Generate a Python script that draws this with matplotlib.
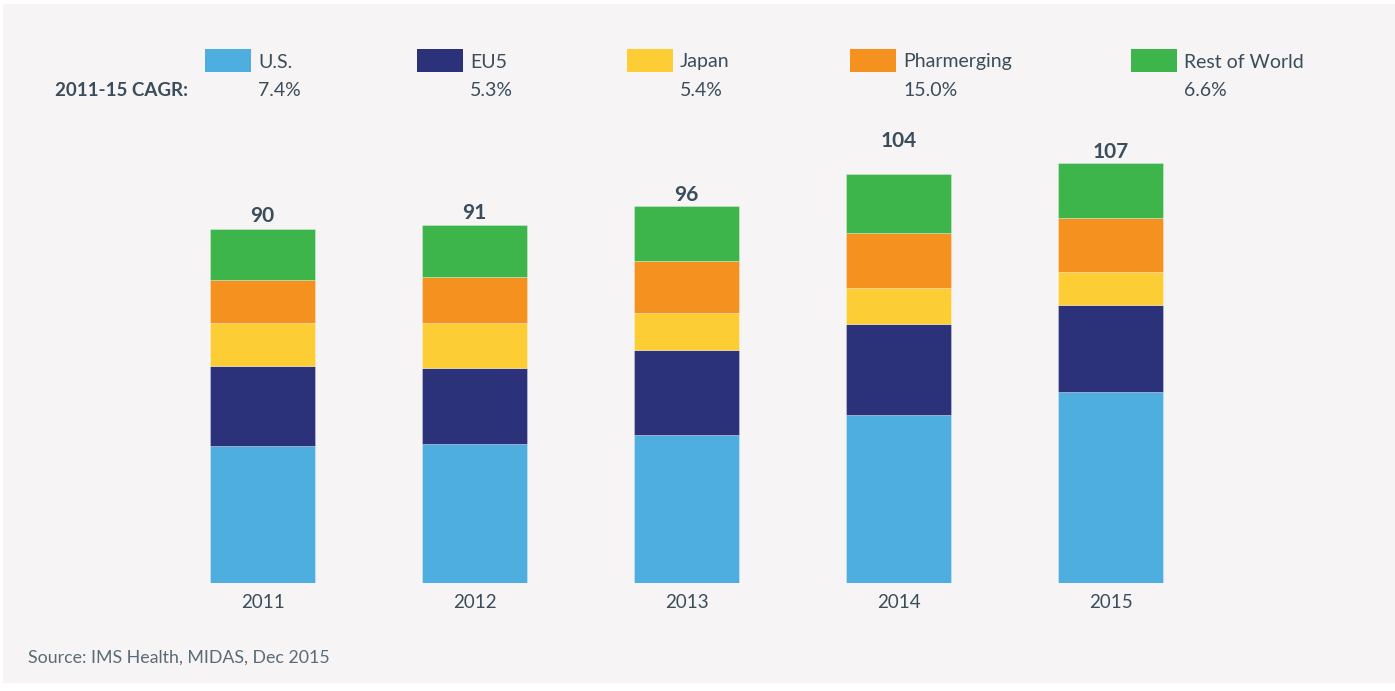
import matplotlib.pyplot as plt
import numpy as np
from matplotlib.patches import Rectangle

plt.rcParams['font.family'] = ['Lato', 'DejaVu Sans']

years = ['2011', '2012', '2013', '2014', '2015']
series = ['U.S.', 'EU5', 'Japan', 'Pharmerging', 'Rest of World']
cagr = ['7.4%', '5.3%', '5.4%', '15.0%', '6.6%']
totals = [90, 91, 96, 104, 107]

us = [34.8, 35.3, 37.6, 42.6, 48.5]
eu5 = [20.5, 19.4, 21.7, 23.4, 22.1]
japan = [10.9, 11.4, 9.5, 9.1, 8.6]
pharmerging = [10.8, 11.7, 13.2, 14.0, 13.7]
row = [13.1, 13.2, 14.0, 15.0, 14.0]

colors = ['#4eaee0', '#2c327a', '#fdcd35', '#f4911f', '#3eb54b']
bg = '#f6f4f5'
txt = '#3b4d5a'

W, H = 1395, 691
fig = plt.figure(figsize=(W / 100, H / 100), dpi=100, facecolor='white')
fig.patches.append(Rectangle((3 / W, 1 - 683 / H), 1 - 3 / W, (683 - 4) / H,
                             transform=fig.transFigure, facecolor=bg,
                             edgecolor='none', zorder=-10))

# axes: bottom at y=582.5px, 3.924 px per unit, bar spacing 212 px
px_unit = 3.924
ax_bottom = 582.5
ymax = 120
ax_top = ax_bottom - px_unit * ymax
ax = fig.add_axes([0, 1 - ax_bottom / H, 1, (ax_bottom - ax_top) / H])
ax.set_facecolor('none')
ax.set_xlim(-262.5 / 212, (W - 262.5) / 212)
ax.set_ylim(0, ymax)
for s in ax.spines.values():
    s.set_visible(False)
ax.set_yticks([])

x = np.arange(len(years))
bottom = np.zeros(len(years))
for vals, c in zip([us, eu5, japan, pharmerging, row], colors):
    ax.bar(x, vals, 0.495, bottom=bottom, color=c, edgecolor=(1, 1, 1, 0.35),
           linewidth=0.6)
    bottom += np.array(vals)

ax.set_xticks(x)
ax.set_xticklabels(years, fontsize=13.5, color=txt)
ax.tick_params(axis='x', length=0, pad=8)

# total labels (2014 label sits higher in the original)
label_gap = [13, 12, 11, 33, 11]
for xi, top, t, g in zip(x, bottom, totals, label_gap):
    ax.annotate(str(t), (xi, top), xytext=(0, g * 0.72), textcoords='offset points',
                ha='center', va='center', fontsize=15, fontweight='bold', color=txt)

# legend row + CAGR row
patch_x = [205, 417, 627, 850, 1131]
for px, name, c, g in zip(patch_x, series, colors, cagr):
    fig.patches.append(Rectangle((px / W, 1 - 72 / H), 46 / W, 23 / H,
                                 transform=fig.transFigure, facecolor=c,
                                 edgecolor='none'))
    fig.text((px + 53) / W, 1 - 62 / H, name, fontsize=14, color=txt,
             ha='left', va='center')
    fig.text((px + 53) / W, 1 - 91 / H, g, fontsize=14, color=txt,
             ha='left', va='center')
fig.text(55 / W, 1 - 91 / H, '2011-15 CAGR:', fontsize=13.5, fontweight='bold',
         color=txt, ha='left', va='center')

fig.text(28 / W, 1 - 658 / H, 'Source: IMS Health, MIDAS, Dec 2015', fontsize=12.8,
         color='#5b6b77', ha='left', va='center')

fig.savefig('out.png', dpi=100, facecolor=fig.get_facecolor())
